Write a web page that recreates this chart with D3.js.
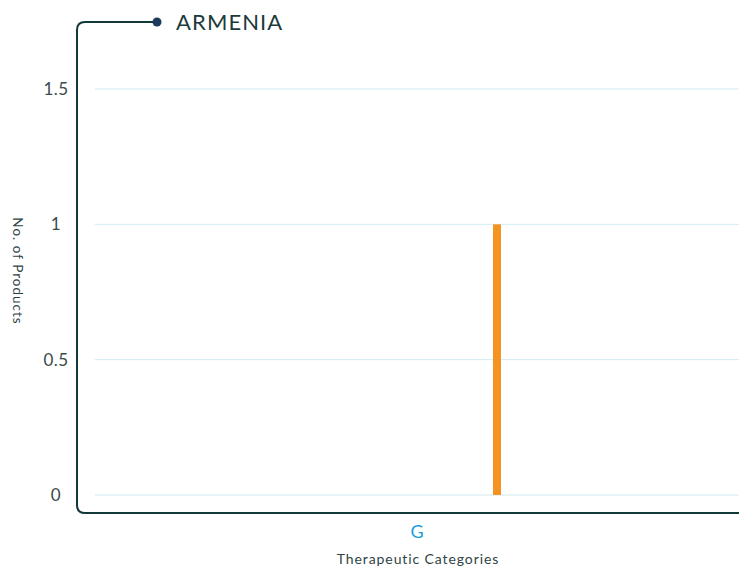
<!DOCTYPE html>
<html><head><meta charset="utf-8">
<script src="https://cdn.jsdelivr.net/npm/d3@7/dist/d3.min.js"></script>
<style>body{margin:0;background:#fff}svg{display:block}text{font-family:"Lato","Open Sans",sans-serif}</style>
</head><body><svg id="c" width="739" height="567"></svg>
<script>
const title = "ARMENIA";
const categories = ["G"];
const values = [1];
const yTicks = [0, 0.5, 1, 1.5];
const yTickLabels = ["0", "0.5", "1", "1.5"];
const xLabel = "Therapeutic Categories";
const yLabel = "No. of Products";

const svg = d3.select("#c");
const W = 739;
const plotL = 95, plotR = 739, plotT = 89, plotB = 495;
const y = d3.scaleLinear().domain([0, 1.5]).range([plotB, plotT]);
const x = d3.scaleBand().domain(categories).range([plotL, plotR]);
const barW = 8;

// gridlines
svg.append("g").selectAll("line").data(yTicks).join("line")
  .attr("x1", plotL).attr("x2", plotR)
  .attr("y1", d => y(d)).attr("y2", d => y(d))
  .attr("stroke", "#d0ecf2").attr("stroke-width", 1);

// y tick labels
svg.append("g").selectAll("text").data(yTicks).join("text")
  .attr("x", 56).attr("y", d => y(d)).attr("dy", "0.35em")
  .attr("text-anchor", "middle").attr("font-size", 17).attr("fill", "#3b4b4c")
  .attr("letter-spacing", 0.5)
  .text((d, i) => yTickLabels[i]);

// frame
const r = 8;
const fx = 77, fTop = 22, fBot = 513;
svg.append("path")
  .attr("d", `M157,${fTop} H${fx + r} Q${fx},${fTop} ${fx},${fTop + r} V${fBot - r} Q${fx},${fBot} ${fx + r},${fBot} H${W}`)
  .attr("fill", "none").attr("stroke", "#11393a").attr("stroke-width", 2);
svg.append("circle").attr("cx", 157).attr("cy", fTop).attr("r", 4.5).attr("fill", "#1b3a5c");

svg.append("text").attr("x", 176).attr("y", 30).attr("font-size", 22)
  .attr("letter-spacing", 1.1)
  .attr("fill", "#1d3a3b").text(title);

// bars
svg.append("g").selectAll("rect").data(values).join("rect")
  .attr("x", (d, i) => x(categories[i]) + x.bandwidth() * 0.6242 - barW / 2)
  .attr("width", barW)
  .attr("y", d => y(d)).attr("height", d => y(0) - y(d))
  .attr("fill", "#f39322");

// x tick labels
svg.append("g").selectAll("text").data(categories).join("text")
  .attr("x", d => x(d) + x.bandwidth() / 2).attr("y", 538)
  .attr("text-anchor", "middle").attr("font-size", 18).attr("fill", "#1b9fd9")
  .text(d => d);

svg.append("text").attr("x", 418).attr("y", 564).attr("text-anchor", "middle")
  .attr("font-size", 14).attr("letter-spacing", 0.9).attr("fill", "#2f4445").text(xLabel);

svg.append("text").attr("transform", "translate(13,271) rotate(90)")
  .attr("text-anchor", "middle").attr("font-size", 13.5).attr("letter-spacing", 1)
  .attr("fill", "#2f4445").text(yLabel);
</script></body></html>
